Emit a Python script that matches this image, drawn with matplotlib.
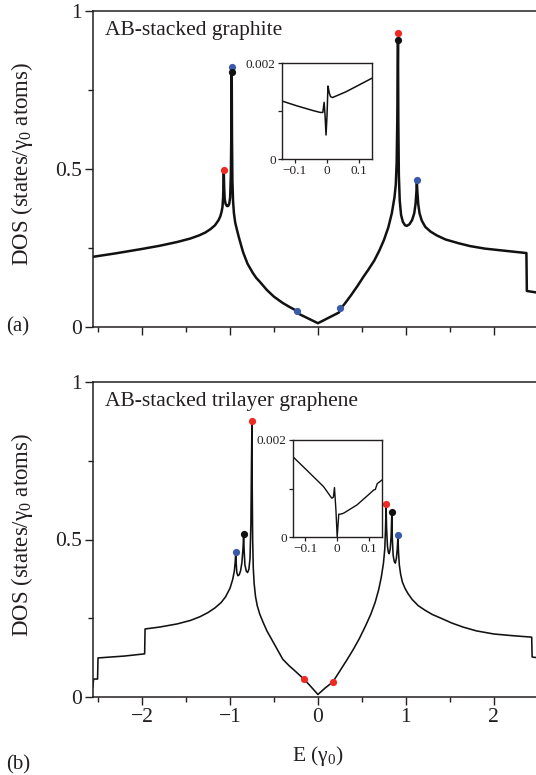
import matplotlib
matplotlib.use('Agg')
import matplotlib.pyplot as plt
from matplotlib.ticker import MultipleLocator, FixedLocator

plt.rcParams['font.family'] = ['Liberation Serif', 'DejaVu Serif']
plt.rcParams['mathtext.fontset'] = 'custom'
plt.rcParams['mathtext.rm'] = 'Liberation Serif'
plt.rcParams['mathtext.it'] = 'Liberation Serif:italic'

INK = '#231f20'
RED = '#ee2a24'
BLUE = '#3b5ba9'

# ---------------- data ----------------
# (a) AB-stacked graphite
graphite_E = [-2.56, -2.3, -2.0, -1.8, -1.6, -1.45, -1.35, -1.28, -1.22, -1.17, -1.13,
              -1.11, -1.095, -1.085, -1.078, -1.072, -1.07, -1.066, -1.06, -1.05, -1.035,
              -1.02, -1.008, -0.998, -0.99, -0.985, -0.98, -0.977, -0.972, -0.965, -0.955,
              -0.94, -0.92, -0.9, -0.88, -0.85, -0.8, -0.74, -0.7, -0.66, -0.58, -0.5,
              -0.4, -0.32, -0.24, -0.235, 0.0, 0.24, 0.25, 0.3, 0.375, 0.45, 0.52, 0.57,
              0.64, 0.7, 0.75, 0.8, 0.84, 0.87, 0.885, 0.895, 0.902, 0.91, 0.914, 0.92,
              0.93, 0.945, 0.965, 0.99, 1.01, 1.04, 1.07, 1.095, 1.11, 1.12, 1.125, 1.13,
              1.14, 1.155, 1.18, 1.22, 1.28, 1.35, 1.45, 1.6, 1.73, 1.9, 2.1, 2.37,
              2.375, 2.56]
graphite_DOS = [0.222, 0.233, 0.247, 0.257, 0.269, 0.28, 0.29, 0.299, 0.31, 0.322, 0.338,
                0.35, 0.365, 0.38, 0.41, 0.46, 0.49, 0.44, 0.405, 0.39, 0.383,
                0.383, 0.39, 0.41, 0.48, 0.6, 0.807, 0.6, 0.46, 0.4, 0.36,
                0.33, 0.307, 0.285, 0.265, 0.236, 0.2, 0.171, 0.155, 0.143, 0.117, 0.096,
                0.076, 0.063, 0.051, 0.044, 0.012, 0.046, 0.056, 0.072, 0.1, 0.13, 0.16, 0.18,
                0.21, 0.243, 0.275, 0.315, 0.36, 0.41, 0.45, 0.52, 0.65, 0.908, 0.65, 0.48,
                0.4, 0.355, 0.333, 0.322, 0.32, 0.325, 0.338, 0.36, 0.39, 0.43, 0.458, 0.43,
                0.39, 0.36, 0.337, 0.317, 0.302, 0.29, 0.277, 0.265, 0.256, 0.248, 0.242, 0.234,
                0.114, 0.106]
graphite_red = ([-1.07, 0.91], [0.497, 0.93])
graphite_blue = ([-0.98, -0.24, 0.25, 1.125], [0.823, 0.051, 0.06, 0.465])
graphite_black = ([-0.98, 0.91], [0.807, 0.908])

graphite_inset_E = [-0.14, -0.094, -0.043, -0.02, -0.012, -0.008, -0.005, -0.002, 0.001,
                    0.004, 0.008, 0.012, 0.018, 0.06, 0.14]
graphite_inset_DOS = [0.00121, 0.00111, 0.00101, 0.00097, 0.00097, 0.00118, 0.0009, 0.0005,
                      0.0009, 0.00152, 0.00138, 0.0013, 0.00128, 0.0014, 0.00168]

# (b) AB-stacked trilayer graphene
trilayer_E = [-2.56, -2.55, -2.505, -2.5, -2.2, -1.97, -1.965, -1.8, -1.6, -1.45, -1.34,
              -1.25, -1.17, -1.1, -1.05, -1.0, -0.97, -0.95, -0.94, -0.935, -0.93, -0.922,
              -0.91, -0.895, -0.88, -0.865, -0.852, -0.845, -0.838, -0.83, -0.815, -0.8,
              -0.785, -0.772, -0.762, -0.755, -0.75, -0.748, -0.742, -0.735, -0.725, -0.71,
              -0.69, -0.66, -0.62, -0.58, -0.52, -0.46, -0.4, -0.33, -0.25, -0.16, -0.08,
              0.0, 0.08, 0.17, 0.25, 0.33, 0.4, 0.47, 0.54, 0.6, 0.65, 0.69, 0.72, 0.745,
              0.76, 0.768, 0.775, 0.78, 0.79, 0.8, 0.81, 0.822, 0.832, 0.84, 0.846, 0.855,
              0.868, 0.88, 0.892, 0.902, 0.91, 0.916, 0.925, 0.94, 0.96, 0.99, 1.02, 1.07,
              1.14, 1.22, 1.3, 1.4, 1.52, 1.65, 1.8, 2.0, 2.2, 2.43, 2.435, 2.56]
trilayer_DOS = [0.03, 0.057, 0.057, 0.124, 0.13, 0.137, 0.216, 0.222, 0.232, 0.243, 0.255,
                0.268, 0.283, 0.3, 0.318, 0.345, 0.372, 0.4, 0.43, 0.455, 0.43, 0.395,
                0.385, 0.388, 0.4, 0.425, 0.47, 0.51, 0.46, 0.42, 0.4, 0.395,
                0.405, 0.44, 0.55, 0.75, 0.87, 0.7, 0.5, 0.41, 0.36, 0.32,
                0.29, 0.262, 0.235, 0.21, 0.18, 0.15, 0.12, 0.1, 0.08, 0.057, 0.033,
                0.008, 0.028, 0.048, 0.083, 0.118, 0.15, 0.185, 0.225, 0.262, 0.3, 0.34, 0.38, 0.425,
                0.47, 0.53, 0.605, 0.54, 0.48, 0.46, 0.455, 0.47, 0.51, 0.58, 0.5, 0.45,
                0.43, 0.425, 0.44, 0.47, 0.51, 0.46, 0.42, 0.39, 0.365, 0.345, 0.33, 0.31,
                0.29, 0.275, 0.262, 0.25, 0.235, 0.222, 0.21, 0.2, 0.195, 0.19, 0.127, 0.122]
trilayer_red = ([-0.75, -0.16, 0.17, 0.775], [0.876, 0.057, 0.048, 0.613])
trilayer_blue = ([-0.93, 0.91], [0.46, 0.514])
trilayer_black = ([-0.84, 0.84], [0.517, 0.587])

trilayer_inset_E = [-0.14, -0.096, -0.043, -0.017, -0.012, -0.0085, -0.004, 0.0, 0.005,
                    0.01, 0.02, 0.062, 0.1, 0.115, 0.12, 0.126, 0.142]
trilayer_inset_DOS = [0.00166, 0.00138, 0.00104, 0.0008, 0.00082, 0.00102, 0.00056, 0.0,
                      0.00047, 0.00047, 0.00049, 0.00066, 0.00088, 0.00097, 0.00098,
                      0.0011, 0.00118]

main_yticks = [0, 0.5, 1]
main_yticklabels = ['0', '0.5', '1']
main_xticks = [-2, -1, 0, 1, 2]
main_xticklabels = ['\u22122', '\u22121', '0', '1', '2']
inset_xticks = [-0.1, 0, 0.1]
inset_xticklabels = ['\u22120.1', '0', '0.1']
inset_yticks = [0, 0.002]
inset_yticklabels = ['0', '0.002']

titles = ['AB-stacked graphite', 'AB-stacked trilayer graphene']
panel_tags = ['(a)', '(b)']

# ---------------- figure ----------------
W, H = 536, 775
fig = plt.figure(figsize=(W / 100, H / 100), dpi=100)


def fx(px):
    return px / W


def fy(py):
    return 1 - py / H


def style_main(ax, show_xlabels):
    ax.set_xlim(-2.557, 2.57)
    ax.set_ylim(0, 1)
    ax.set_xticks(main_xticks)
    ax.set_xticklabels(main_xticklabels if show_xlabels else [''] * len(main_xticks))
    ax.xaxis.set_minor_locator(MultipleLocator(0.5))
    ax.set_yticks(main_yticks)
    ax.set_yticklabels(main_yticklabels)
    ax.yaxis.set_minor_locator(FixedLocator([0.25, 0.75]))
    ax.tick_params(which='major', direction='out', length=6, width=1.0, color=INK,
                   labelcolor=INK, labelsize=15.5, pad=2)
    ax.tick_params(which='minor', direction='out', length=3.8, width=1.0, color=INK)
    ax.tick_params(top=False, right=False, which='both')
    for s in ['left', 'bottom', 'top']:
        ax.spines[s].set_linewidth(1.1)
        ax.spines[s].set_color(INK)
    ax.spines['right'].set_visible(False)


def style_inset(ax):
    ax.set_xlim(-0.139, 0.141)
    ax.set_ylim(0, 0.002)
    ax.set_xticks(inset_xticks)
    ax.set_xticklabels(inset_xticklabels)
    ax.set_yticks(inset_yticks)
    ax.set_yticklabels(inset_yticklabels)
    ax.yaxis.set_minor_locator(FixedLocator([0.001]))
    ax.tick_params(which='both', direction='out', length=3, width=0.9, color=INK,
                   labelcolor=INK, labelsize=9.5, pad=1.5)
    for s in ax.spines.values():
        s.set_linewidth(1.0)
        s.set_color(INK)


# top panel
ax1 = fig.add_axes([fx(93), fy(327), fx(544) - fx(93), fy(11) - fy(327)])
ax1.plot(graphite_E, graphite_DOS, color='#111111', lw=1.8)
ax1.plot(*graphite_red, 'o', color=RED, ms=5.2, mec='none', zorder=5, clip_on=False)
ax1.plot(*graphite_blue, 'o', color=BLUE, ms=5.2, mec='none', zorder=5, clip_on=False)
ax1.plot(*graphite_black, 'o', color='#111111', ms=5.2, mec='none', zorder=5, clip_on=False)
style_main(ax1, False)
ax1.text(0.027, 0.968, titles[0], transform=ax1.transAxes, ha='left', va='top',
         fontsize=15.5, color=INK)

# bottom panel
ax2 = fig.add_axes([fx(93), fy(697), fx(544) - fx(93), fy(382) - fy(697)])
ax2.plot(trilayer_E, trilayer_DOS, color='#111111', lw=1.15)
ax2.plot(*trilayer_red, 'o', color=RED, ms=5.2, mec='none', zorder=5, clip_on=False)
ax2.plot(*trilayer_blue, 'o', color=BLUE, ms=5.2, mec='none', zorder=5, clip_on=False)
ax2.plot(*trilayer_black, 'o', color='#111111', ms=5.2, mec='none', zorder=5, clip_on=False)
style_main(ax2, True)
ax2.text(0.027, 0.968, titles[1], transform=ax2.transAxes, ha='left', va='top',
         fontsize=15.5, color=INK)

# insets
in1 = fig.add_axes([fx(282), fy(159), fx(372) - fx(282), fy(63) - fy(159)])
in1.plot(graphite_inset_E, graphite_inset_DOS, color='#111111', lw=1.1)
style_inset(in1)

in2 = fig.add_axes([fx(293), fy(537), fx(382) - fx(293), fy(440) - fy(537)])
in2.plot(trilayer_inset_E, trilayer_inset_DOS, color='#111111', lw=1.0)
style_inset(in2)

# labels
ylab = r'DOS (states/$\mathregular{\gamma_0}$ atoms)'
fig.text(fx(22), fy(164), ylab, rotation=90, ha='center', va='center', fontsize=16.5, color=INK)
fig.text(fx(22), fy(535), ylab, rotation=90, ha='center', va='center', fontsize=16.5, color=INK)
fig.text(fx(318), fy(756), r'E ($\mathregular{\gamma_0}$)', ha='center', va='center',
         fontsize=15.5, color=INK)
fig.text(fx(18), fy(327), panel_tags[0], ha='center', va='center', fontsize=15, color=INK)
fig.text(fx(18), fy(765), panel_tags[1], ha='center', va='center', fontsize=15, color=INK)

fig.savefig('out.png', dpi=100)
